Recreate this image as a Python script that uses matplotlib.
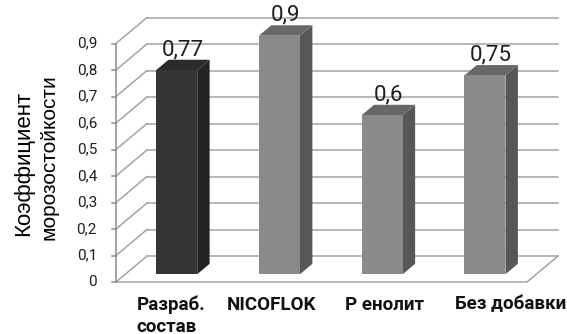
import matplotlib
matplotlib.use("Agg")
import matplotlib.pyplot as plt
from matplotlib.patches import Polygon
import numpy as np

# ---- data ----
categories = ["Разраб.\nсостав", "NICOFLOK", "Р енолит", "Без добавки"]
values = [0.77, 0.90, 0.60, 0.75]
value_labels = ["0,77", "0,9", "0,6", "0,75"]
y_ticks = [0.0, 0.1, 0.2, 0.3, 0.4, 0.5, 0.6, 0.7, 0.8, 0.9]
y_tick_labels = ["0", "0,1", "0,2", "0,3", "0,4", "0,5", "0,6", "0,7", "0,8", "0,9"]
ylabel_lines = ["Коэффициент", "морозостойкости"]

# ---- styling / layout ----
W, H = 567, 334
front_colors = ["#353535", "#8a8a8a", "#8a8a8a", "#8a8a8a"]
side_colors = ["#232323", "#575757", "#575757", "#575757"]
top_colors = ["#2b2b2b", "#686868", "#686868", "#686868"]
grid_color = "#a3a3a3"
axis_color = "#8c8c8c"

px_per_cat = 102.75     # px per category unit
px_per_val = 265.0      # px per value unit
x0_px = 116.0           # front plane left edge (x=-0.5)
y0_px = 282.0           # value 0 on front plane (from top)
DX = 31.0 / px_per_cat  # depth offset in x units
DY = 26.0 / px_per_val  # depth offset in value units
half_w = 0.2
z_front, z_back = 0.3, 0.7

fam = ["Roboto", "DejaVu Sans"]

fig = plt.figure(figsize=(W / 100, H / 100), dpi=100)
ax = fig.add_axes([0, 0, 1, 1])
ax.set_xlim(-0.5 - x0_px / px_per_cat, -0.5 + (W - x0_px) / px_per_cat)
ax.set_ylim(-(H - y0_px) / px_per_val, y0_px / px_per_val)
ax.axis("off")

n = len(categories)
xl, xr = -0.5, n - 0.5


def proj(x, v, z):
    return (x + z * DX, v + z * DY)


# back wall gridlines and left wall diagonals
for t in y_ticks:
    p1 = proj(xl, t, 1)
    p2 = proj(xr, t, 1)
    ax.plot([p1[0], p2[0]], [p1[1], p2[1]], color=grid_color, lw=1.1, zorder=1)
    q1 = proj(xl, t, 0)
    ax.plot([q1[0], p1[0]], [q1[1], p1[1]], color=grid_color, lw=1.1, zorder=1)

# floor front and right edges
f1, f2, f3 = proj(xl, 0, 0), proj(xr, 0, 0), proj(xr, 0, 1)
ax.plot([f1[0], f2[0], f3[0]], [f1[1], f2[1], f3[1]], color=grid_color, lw=1.1, zorder=1)

# front vertical axis with ticks
ax.plot([xl, xl], [0, y_ticks[-1]], color=axis_color, lw=1.1, zorder=2)
tick_len = 4.0 / px_per_cat
for t, lab in zip(y_ticks, y_tick_labels):
    ax.plot([xl - tick_len, xl], [t, t], color=axis_color, lw=1.1, zorder=2)
    ax.text(xl - 19.0 / px_per_cat, t, lab, ha="right", va="center",
            fontsize=11, family=fam, color="#1e1e1e")

# bars
for i, (v, lab) in enumerate(zip(values, value_labels)):
    a, b = i - half_w, i + half_w
    front = [proj(a, 0, z_front), proj(b, 0, z_front), proj(b, v, z_front), proj(a, v, z_front)]
    side = [proj(b, 0, z_front), proj(b, 0, z_back), proj(b, v, z_back), proj(b, v, z_front)]
    top = [proj(a, v, z_front), proj(b, v, z_front), proj(b, v, z_back), proj(a, v, z_back)]
    ax.add_patch(Polygon(side, closed=True, facecolor=side_colors[i], edgecolor="none", zorder=3))
    ax.add_patch(Polygon(top, closed=True, facecolor=top_colors[i], edgecolor="none", zorder=3))
    ax.add_patch(Polygon(front, closed=True, facecolor=front_colors[i], edgecolor="none", zorder=4))
    cx, cy = proj(i, v, 0.5)
    ax.text(cx, cy + 10.0 / px_per_val, lab, ha="center", va="baseline",
            fontsize=16, family=fam, color="#1e1e1e", zorder=6)

# category labels
label_dx = [0.035, 0.018, 0.118, 0.344]
for i, (c, d) in enumerate(zip(categories, label_dx)):
    ax.text(i + d, -13.5 / px_per_val, c, ha="center", va="top",
            multialignment="left", fontsize=13.5, fontweight="bold", family=fam,
            color="#111111", linespacing=1.25)

# y label (two lines)
fig.text(24 / W, 1 - 163 / H, ylabel_lines[0], rotation=90, ha="center", va="center",
         fontsize=16, family=["Liberation Sans", "DejaVu Sans"], color="black")
fig.text(49 / W, 1 - 157 / H, ylabel_lines[1], rotation=90, ha="center", va="center",
         fontsize=15, family=["Liberation Sans", "DejaVu Sans"], color="black")

fig.savefig("out.png", dpi=100)
